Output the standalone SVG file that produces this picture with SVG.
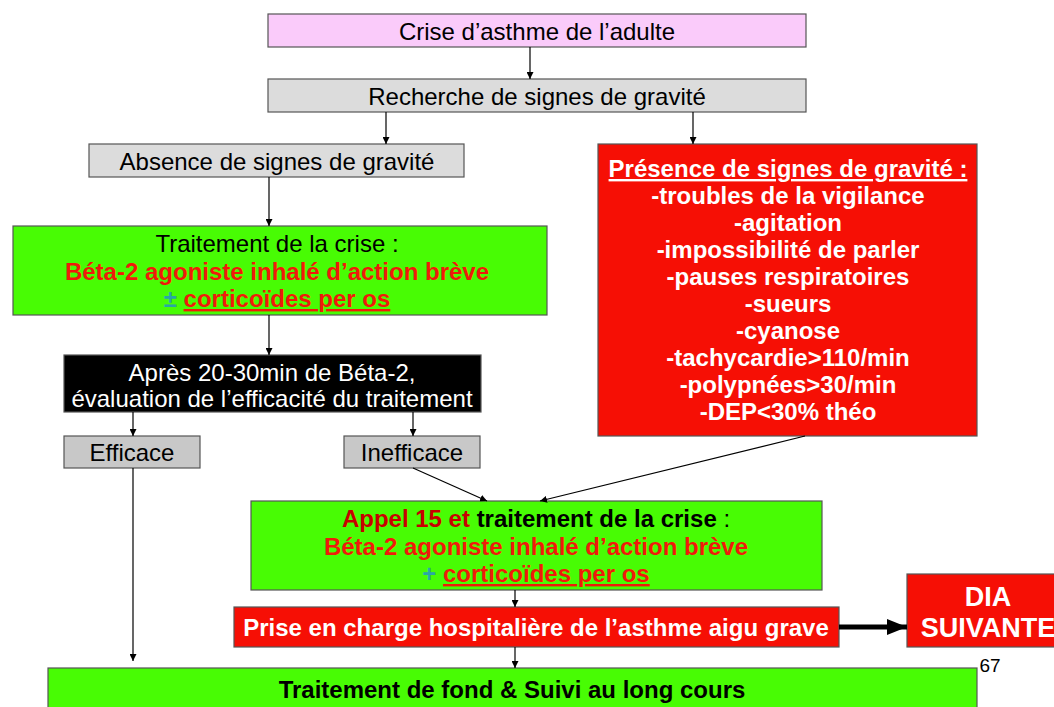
<svg xmlns="http://www.w3.org/2000/svg" width="1054" height="707" viewBox="0 0 1054 707">
<defs>
<marker id="ah" viewBox="0 0 10 10" refX="10" refY="5" markerWidth="7" markerHeight="7" markerUnits="userSpaceOnUse" orient="auto"><path d="M0,0 L10,5 L0,10 z" fill="#000"/></marker>
<marker id="ahb" viewBox="0 0 10 10" refX="10" refY="5" markerWidth="20" markerHeight="16" markerUnits="userSpaceOnUse" orient="auto" preserveAspectRatio="none"><path d="M0,0 L10,5 L0,10 z" fill="#000"/></marker>
<style>
text{font-family:"Liberation Sans",Arial,sans-serif;font-size:24px;text-anchor:middle}
.b{font-weight:bold}
.w{fill:#fff}
.r{fill:#f01a0a}
.box{stroke:#555;stroke-width:1.2}
.c line{stroke:#000;stroke-width:1.2}
</style>
</defs>
<rect width="1054" height="707" fill="#fff"/>
<g id="n1"><rect class="box" x="268" y="14" width="538" height="33" fill="#facbfa"/><text x="537" y="40">Crise d’asthme de l’adulte</text></g>
<g id="n2"><rect class="box" x="268" y="79" width="538" height="33" fill="#dcdcdc"/><text x="537" y="105">Recherche de signes de gravité</text></g>
<g id="n3"><rect class="box" x="89" y="144" width="375" height="33" fill="#dcdcdc"/><text x="277" y="170">Absence de signes de gravité</text></g>
<g id="n4"><rect class="box" x="598" y="144" width="379" height="292" fill="#f60f05"/>
<text class="b w" x="788" y="177" text-decoration="underline">Présence de signes de gravité :</text>
<text class="b w" x="788" y="204">-troubles de la vigilance</text>
<text class="b w" x="788" y="231">-agitation</text>
<text class="b w" x="788" y="258">-impossibilité de parler</text>
<text class="b w" x="788" y="285">-pauses respiratoires</text>
<text class="b w" x="788" y="312">-sueurs</text>
<text class="b w" x="788" y="339">-cyanose</text>
<text class="b w" x="788" y="366">-tachycardie&gt;110/min</text>
<text class="b w" x="788" y="393">-polypnées&gt;30/min</text>
<text class="b w" x="788" y="420">-DEP&lt;30% théo</text>
</g>
<g id="n5"><rect class="box" x="13" y="226" width="534" height="89" fill="#48fc04"/>
<text x="277" y="252">Traitement de la crise :</text>
<text class="b r" x="277" y="280">Béta-2 agoniste inhalé d’action brève</text>
<text class="b" x="277" y="307"><tspan fill="#2aa6a6">±</tspan><tspan class="r"> </tspan><tspan class="r" text-decoration="underline">corticoïdes per os</tspan></text>
</g>
<g id="n6"><rect class="box" x="64" y="355" width="417" height="57" fill="#000"/>
<text class="w" x="272" y="381">Après 20-30min de Béta-2,</text>
<text class="w" x="272" y="407">évaluation de l’efficacité du traitement</text>
</g>
<g id="n7"><rect class="box" x="64" y="436" width="136" height="32" fill="#c8c8c8"/><text x="132" y="461">Efficace</text></g>
<g id="n8"><rect class="box" x="344" y="436" width="136" height="32" fill="#c8c8c8"/><text x="412" y="461">Inefficace</text></g>
<g id="n9"><rect class="box" x="251" y="501" width="571" height="89" fill="#48fc04"/>
<text class="b" x="536" y="527"><tspan fill="#c80000">Appel 15 et </tspan><tspan>traitement de la crise</tspan><tspan font-weight="normal"> :</tspan></text>
<text class="b r" x="536" y="555">Béta-2 agoniste inhalé d’action brève</text>
<text class="b" x="536" y="582"><tspan fill="#2aa6a6">+</tspan><tspan class="r"> </tspan><tspan class="r" text-decoration="underline">corticoïdes per os</tspan></text>
</g>
<g id="n10"><rect class="box" x="234" y="607" width="605" height="40" fill="#f60f05"/><text class="b w" x="536" y="636">Prise en charge hospitalière de l’asthme aigu grave</text></g>
<g id="n11"><rect class="box" x="907" y="574" width="160" height="73" fill="#f60f05"/>
<text class="b w" x="988" y="606" style="font-size:27px">DIA</text>
<text class="b w" x="988" y="637" style="font-size:27px">SUIVANTE</text>
</g>
<g id="n12"><rect class="box" x="48" y="668" width="929" height="50" fill="#48fc04"/><text class="b" x="512" y="698">Traitement de fond &amp; Suivi au long cours</text></g>
<text x="990" y="672" style="font-size:19px">67</text>
<g class="c" id="connectors">
<line x1="530" y1="47" x2="530" y2="79" marker-end="url(#ah)"/>
<line x1="386" y1="112" x2="386" y2="144" marker-end="url(#ah)"/>
<line x1="693" y1="112" x2="693" y2="144" marker-end="url(#ah)"/>
<line x1="269" y1="177" x2="269" y2="226" marker-end="url(#ah)"/>
<line x1="269" y1="315" x2="269" y2="355" marker-end="url(#ah)"/>
<line x1="133" y1="412" x2="133" y2="436" marker-end="url(#ah)"/>
<line x1="413" y1="412" x2="413" y2="436" marker-end="url(#ah)"/>
<line x1="413" y1="468" x2="487" y2="501" marker-end="url(#ah)"/>
<line x1="805" y1="436" x2="540" y2="501" marker-end="url(#ah)"/>
<line x1="515" y1="590" x2="515" y2="607" marker-end="url(#ah)"/>
<line x1="515" y1="647" x2="515" y2="668" marker-end="url(#ah)"/>
<line x1="133" y1="468" x2="133" y2="661" marker-end="url(#ah)"/>
<line x1="839" y1="627" x2="907" y2="627" style="stroke-width:5" marker-end="url(#ahb)"/>
</g>
</svg>
